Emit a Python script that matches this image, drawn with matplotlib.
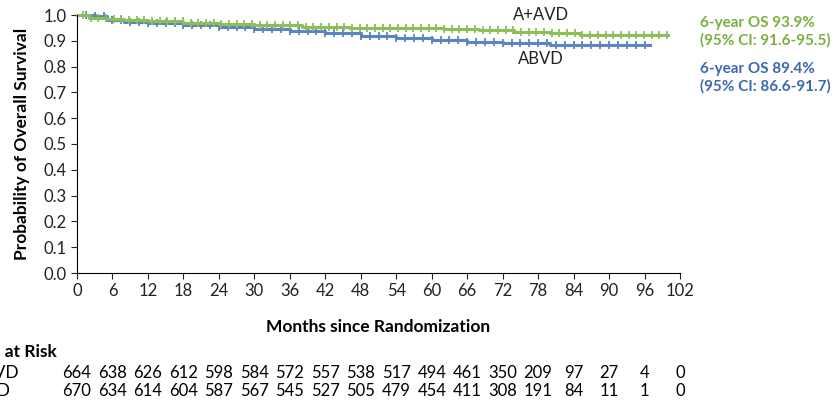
import matplotlib
matplotlib.use("Agg")
import matplotlib.pyplot as plt
import numpy as np

plt.rcParams['font.family'] = ['Lato', 'DejaVu Sans']
green = "#8cbf5a"
blue = "#5b84c4"
g_t = [0, 2, 5, 8, 12, 18, 24, 30, 38, 46, 54, 62, 68, 74, 80, 85, 100]
g_s = [1.0, 0.99, 0.985, 0.98, 0.975, 0.97, 0.965, 0.96, 0.955, 0.95, 0.948, 0.945, 0.94, 0.935, 0.93, 0.922, 0.922]
b_t = [0, 3, 5, 8, 12, 18, 24, 30, 36, 42, 48, 54, 60, 66, 72, 80, 97]
b_s = [1.0, 0.995, 0.98, 0.972, 0.968, 0.96, 0.952, 0.945, 0.938, 0.93, 0.92, 0.912, 0.905, 0.895, 0.89, 0.884, 0.884]
g_cens = np.arange(1, 100.5, 1.3)
b_cens = np.arange(1.5, 97.5, 1.5)

xticks = list(range(0, 103, 6))
yticks = [round(0.1 * i, 1) for i in range(11)]
risk_g = [664, 638, 626, 612, 598, 584, 572, 557, 538, 517, 494, 461, 350, 209, 97, 27, 4, 0]
risk_b = [670, 634, 614, 604, 587, 567, 545, 527, 505, 479, 454, 411, 308, 191, 84, 11, 1, 0]

fig = plt.figure(figsize=(8.4, 4.0), dpi=100)
ax = fig.add_axes([77/840, 1-273/400, (680-77)/840, (273-15)/400])
ax.set_xlim(0, 102)
ax.set_ylim(0, 1.0)
for t, s, c, cens in [(b_t, b_s, blue, b_cens), (g_t, g_s, green, g_cens)]:
    ax.step(t, s, where="post", color=c, lw=2.2, clip_on=False)
    idx = np.searchsorted(t, cens, side="right") - 1
    ax.plot(cens, np.array(s)[idx], "|", color=c, ms=6, mew=1.3, clip_on=False)
ax.set_xticks(xticks)
ax.set_yticks(yticks)
ax.set_yticklabels([f"{v:.1f}" for v in yticks])
for sp in ["top", "right"]:
    ax.spines[sp].set_visible(False)
ax.tick_params(labelsize=12, length=4, colors="#222222")
ax.set_xlabel("Months since Randomization", fontsize=12.5, fontweight="bold", labelpad=14)
ax.set_ylabel("Probability of Overall Survival", fontsize=12.5, fontweight="bold", labelpad=10)
ax.text(78.5, 0.97, "A+AVD", fontsize=12, ha="center", va="bottom", color="#222222")
ax.text(78.5, 0.86, "ABVD", fontsize=12, ha="center", va="top", color="#222222")
fig.text(700/840, 1-16/400, "6-year OS 93.9%\n(95% CI: 91.6-95.5)", color="#79b040",
         fontsize=11, fontweight="bold", va="top", linespacing=1.3)
fig.text(700/840, 1-62/400, "6-year OS 89.4%\n(95% CI: 86.6-91.7)", color="#3d68b0",
         fontsize=11, fontweight="bold", va="top", linespacing=1.3)
fig.text(57/840, 1-352/400, "No. at Risk", fontsize=12.5, fontweight="bold", va="center", ha="right")
fig.text(20/840, 1-373/400, "A+AVD", fontsize=12.5, va="center", ha="right")
fig.text(11/840, 1-391/400, "ABVD", fontsize=12.5, va="center", ha="right")
for i, x in enumerate(xticks):
    X = ax.transData.transform((x, 0))[0] / 840
    fig.text(X, 1-373/400, str(risk_g[i]), fontsize=12, ha="center", va="center")
    fig.text(X, 1-391/400, str(risk_b[i]), fontsize=12, ha="center", va="center")
fig.savefig("out.png", dpi=100)
